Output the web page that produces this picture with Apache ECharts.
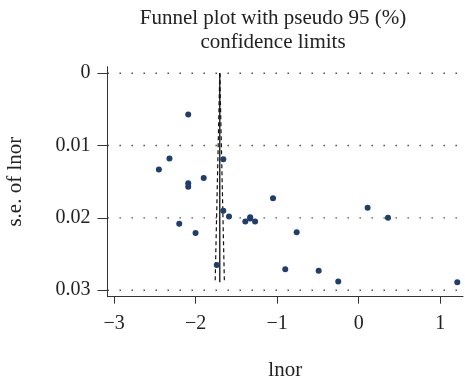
<!DOCTYPE html>
<html>
<head>
<meta charset="utf-8">
<script src="https://cdn.jsdelivr.net/npm/echarts@6/dist/echarts.min.js"></script>
<style>
  html, body { margin: 0; padding: 0; background: #fff; }
  #main { width: 465px; height: 377px; }
</style>
</head>
<body>
<div id="main"></div>
<script>
// studies: log odds ratio and its standard error
const lnor = [-2.09, -2.32, -2.45, -1.66, -1.90, -2.09, -2.09, -1.05, -1.66, -1.59,
              -2.20, -1.39, -1.33, -1.33, -1.27, -2.00, -1.74, 0.11, 0.36, -0.76,
              -0.90, -0.49, -0.25, 1.21];
const seLnor = [0.0057, 0.0118, 0.0133, 0.0119, 0.0145, 0.0152, 0.0157, 0.0173, 0.0190, 0.0198,
                0.0208, 0.0205, 0.0199, 0.0201, 0.0205, 0.0221, 0.0265, 0.0186, 0.0200, 0.0220,
                0.0271, 0.0273, 0.0288, 0.0289];
const xTicks = [-3, -2, -1, 0, 1];
const yTicks = [0, 0.01, 0.02, 0.03];
// pooled estimate and funnel depth
const pooled = -1.703;
const seMax = 0.0289;

const xMin = -3.08, xMax = 1.28;
const yMin = -0.0009, yMax = 0.0309;

const chart = echarts.init(document.getElementById('main'));
const serif = 'Liberation Serif';
const ink = '#333';

// dotted reference lines at each y tick
const gridSeries = yTicks.map(function (t) {
  return {
    type: 'line',
    data: [[xMin, t], [xMax, t]],
    symbol: 'none',
    silent: true,
    z: 1,
    lineStyle: { color: '#444', width: 1.4, type: [1.4, 10.6], dashOffset: -12, cap: 'butt' }
  };
});

const option = {
  animation: false,
  backgroundColor: '#fff',
  graphic: [{
    type: 'text',
    x: 273,
    y: 6,
    style: {
      text: 'Funnel plot with pseudo 95 (%)\nconfidence limits',
      font: '21px "' + serif + '"',
      fill: '#222',
      textAlign: 'center',
      lineHeight: 24
    }
  }],
  grid: { left: 107.5, right: 2, top: 66.7, bottom: 80.3, outerBoundsMode: 'none' },
  xAxis: {
    type: 'value',
    min: xMin,
    max: xMax,
    name: 'lnor',
    nameLocation: 'middle',
    nameGap: 63,
    nameTextStyle: { fontFamily: serif, fontSize: 21, color: '#222' },
    axisLine: { onZero: false, lineStyle: { color: ink, width: 1 } },
    axisTick: { customValues: xTicks, length: 7, lineStyle: { color: ink } },
    axisLabel: {
      customValues: xTicks,
      margin: 17,
      fontFamily: serif, fontSize: 20, color: '#222',
      formatter: function (v) { return String(v).replace('-', '\u2212'); }
    },
    splitLine: { show: false }
  },
  yAxis: {
    type: 'value',
    inverse: true,
    min: yMin,
    max: yMax,
    name: 's.e. of lnor',
    nameLocation: 'middle',
    nameGap: 82,
    nameTextStyle: { fontFamily: serif, fontSize: 21, color: '#222' },
    axisLine: { show: true, onZero: false, lineStyle: { color: ink, width: 1 } },
    axisTick: { show: true, customValues: yTicks, length: 10, lineStyle: { color: ink } },
    axisLabel: {
      customValues: yTicks,
      margin: 17,
      fontFamily: serif, fontSize: 20, color: '#222',
      formatter: function (v) { return v === 0 ? '0' : v.toFixed(2); }
    },
    splitLine: { show: false }
  },
  series: gridSeries.concat([
    {
      type: 'line',
      data: [[pooled, 0], [pooled, seMax]],
      symbol: 'none',
      z: 3,
      lineStyle: { color: '#111', width: 1.3 }
    },
    {
      type: 'line',
      data: [[pooled, 0], [pooled - 1.96 * seMax, seMax]],
      symbol: 'none',
      z: 3,
      lineStyle: { color: '#111', width: 1.2, type: [4, 3] }
    },
    {
      type: 'line',
      data: [[pooled, 0], [pooled + 1.96 * seMax, seMax]],
      symbol: 'none',
      z: 3,
      lineStyle: { color: '#111', width: 1.2, type: [4, 3] }
    },
    {
      type: 'scatter',
      data: lnor.map(function (x, i) { return [x, seLnor[i]]; }),
      symbol: 'circle',
      symbolSize: 6,
      z: 4,
      itemStyle: { color: '#1f3d6d', opacity: 1 }
    }
  ])
};

chart.setOption(option);
</script>
</body>
</html>
